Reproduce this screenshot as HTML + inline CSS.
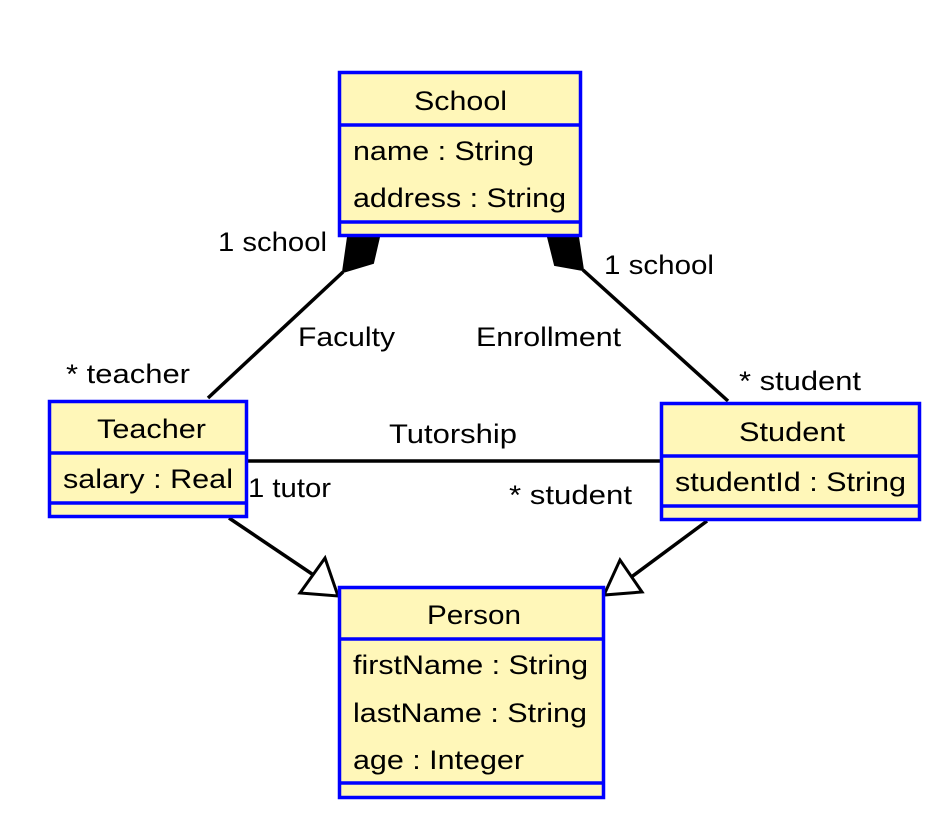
<!DOCTYPE html>
<html><head><style>
body{margin:0;background:#fff}
svg text{font-family:"Liberation Sans",Arial,sans-serif;font-size:27px;fill:#000}
</style></head><body>
<svg width="934" height="812" xmlns="http://www.w3.org/2000/svg">
<g stroke="#000" stroke-width="3.5" fill="none">
<line x1="343" y1="272" x2="208" y2="398"/>
<line x1="583" y1="270" x2="728" y2="401"/>
<line x1="246" y1="461" x2="661" y2="461"/>
<line x1="229" y1="518" x2="318" y2="578"/>
<line x1="707" y1="521" x2="630" y2="578"/>
</g>
<polygon points="348,237 379,237 373,263 343,272" fill="#000" stroke="#000" stroke-width="2"/>
<polygon points="548,237 578,237 583,270 555,265" fill="#000" stroke="#000" stroke-width="2"/>
<polygon points="300,593 325,558 338,596" fill="#fff" stroke="#000" stroke-width="3"/>
<polygon points="604,595 620,560 642,592" fill="#fff" stroke="#000" stroke-width="3"/>
<g fill="#fff7b9" stroke="#0000ff" stroke-width="3.5">
<rect x="339.5" y="72.5" width="241" height="163"/>
<line x1="339" y1="125" x2="580" y2="125"/>
<line x1="339" y1="222" x2="580" y2="222"/>
<rect x="49.5" y="401.5" width="197" height="115"/>
<line x1="49" y1="453" x2="246" y2="453"/>
<line x1="49" y1="503" x2="246" y2="503"/>
<rect x="661.5" y="403.5" width="258" height="116"/>
<line x1="661" y1="456" x2="919" y2="456"/>
<line x1="661" y1="506" x2="919" y2="506"/>
<rect x="339.5" y="587.5" width="264" height="210"/>
<line x1="339" y1="639" x2="603" y2="639"/>
<line x1="339" y1="783" x2="603" y2="783"/>
</g>
<g>
<text x="414" y="110" textLength="93" lengthAdjust="spacingAndGlyphs">School</text>
<text x="353" y="160" textLength="181" lengthAdjust="spacingAndGlyphs">name : String</text>
<text x="353" y="207" textLength="213" lengthAdjust="spacingAndGlyphs">address : String</text>
<text x="97" y="438" textLength="109" lengthAdjust="spacingAndGlyphs">Teacher</text>
<text x="63" y="488" textLength="170" lengthAdjust="spacingAndGlyphs">salary : Real</text>
<text x="739" y="441" textLength="106" lengthAdjust="spacingAndGlyphs">Student</text>
<text x="675" y="491" textLength="231" lengthAdjust="spacingAndGlyphs">studentId : String</text>
<text x="427" y="624" textLength="94" lengthAdjust="spacingAndGlyphs">Person</text>
<text x="353" y="674" textLength="235" lengthAdjust="spacingAndGlyphs">firstName : String</text>
<text x="353" y="722" textLength="234" lengthAdjust="spacingAndGlyphs">lastName : String</text>
<text x="353" y="769" textLength="171" lengthAdjust="spacingAndGlyphs">age : Integer</text>
<text x="218" y="251" textLength="109" lengthAdjust="spacingAndGlyphs">1 school</text>
<text x="604" y="274" textLength="110" lengthAdjust="spacingAndGlyphs">1 school</text>
<text x="298" y="346" textLength="97" lengthAdjust="spacingAndGlyphs">Faculty</text>
<text x="476" y="346" textLength="145" lengthAdjust="spacingAndGlyphs">Enrollment</text>
<text x="66" y="383" textLength="124" lengthAdjust="spacingAndGlyphs">* teacher</text>
<text x="739" y="390" textLength="122" lengthAdjust="spacingAndGlyphs">* student</text>
<text x="389" y="443" textLength="128" lengthAdjust="spacingAndGlyphs">Tutorship</text>
<text x="248" y="497" textLength="83" lengthAdjust="spacingAndGlyphs">1 tutor</text>
<text x="509" y="504" textLength="123" lengthAdjust="spacingAndGlyphs">* student</text>
</g>
</svg>
</body></html>
